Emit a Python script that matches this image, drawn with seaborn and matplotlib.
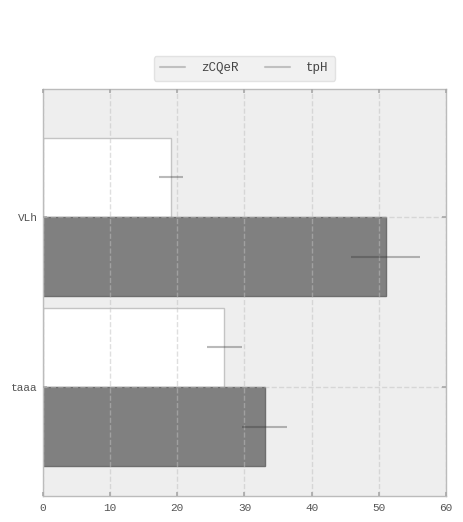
import pandas as pd
import numpy as np
import seaborn as sns
import matplotlib.pyplot as plt
from matplotlib.lines import Line2D

# data
categories = ['VLh', 'taaa']
series = ['zCQeR', 'tpH']
zCQeR_vals = [19, 27]
tpH_vals = [51, 33]
zCQeR_err = [1.8, 2.6]
tpH_err = [5.2, 3.3]

df = pd.DataFrame({
    'cat': categories * 2,
    'value': zCQeR_vals + tpH_vals,
    'err': zCQeR_err + tpH_err,
    'series': [series[0]] * 2 + [series[1]] * 2,
})

sns.set_theme(style="white")
plt.rcParams['font.family'] = ['Liberation Mono', 'DejaVu Sans Mono']

fig = plt.figure(figsize=(4.64, 5.22), dpi=100)
ax = fig.add_axes([43 / 464, 1 - 496 / 522, 403 / 464, 407 / 522])
ax.set_facecolor('#eeeeee')

sns.barplot(data=df, x='value', y='cat', hue='series', order=categories,
            hue_order=series, palette=['white', '#808080'], width=0.93,
            errorbar=None, orient='h', legend=False, ax=ax, saturation=1)

# bar edges
for p in ax.patches:
    if p.get_facecolor()[0] > 0.9:
        p.set_edgecolor('#c4c4c4')
    else:
        p.set_edgecolor('#6e6e6e')
    p.set_linewidth(1.0)

# error bars at each bar centre
for p in ax.patches:
    w = p.get_width()
    yc = p.get_y() + p.get_height() / 2
    row = df[np.isclose(df['value'], w)].iloc[0]
    ax.errorbar(w, yc, xerr=row['err'], fmt='none', ecolor='#303030',
                alpha=0.33, elinewidth=1.5, capsize=0, zorder=3)

ax.set_xlim(0, 60)
ax.set_ylim(1.641, -0.753)
ax.set_xticks([0, 10, 20, 30, 40, 50, 60])
ax.set_xlabel('')
ax.set_ylabel('')

ax.grid(True, linestyle='--', color='#c0c0c0', alpha=0.5, linewidth=1.0)
ax.set_axisbelow(False)
for s in ax.spines.values():
    s.set_color('#bbbbbb')
    s.set_linewidth(1.0)

ax.tick_params(axis='both', which='both', direction='in', length=3,
               color='#aaaaaa', labelsize=8, labelcolor='#555555',
               top=True, right=True, bottom=True, left=True)
ax.tick_params(axis='x', pad=5)
ax.tick_params(axis='y', pad=4)

handles = [Line2D([0], [0], color='#c0c0c0', lw=1.5) for _ in series]
leg = ax.legend(handles, series, loc='lower center', bbox_to_anchor=(0.5, 1.005),
                ncol=2, frameon=True, fontsize=9, handlelength=2.0,
                columnspacing=2.1, handletextpad=1.3, borderpad=0.5)
leg.get_frame().set_facecolor('#eeeeee')
leg.get_frame().set_edgecolor('#dddddd')
for t in leg.get_texts():
    t.set_color('#444444')

fig.savefig('out.png', dpi=100)
